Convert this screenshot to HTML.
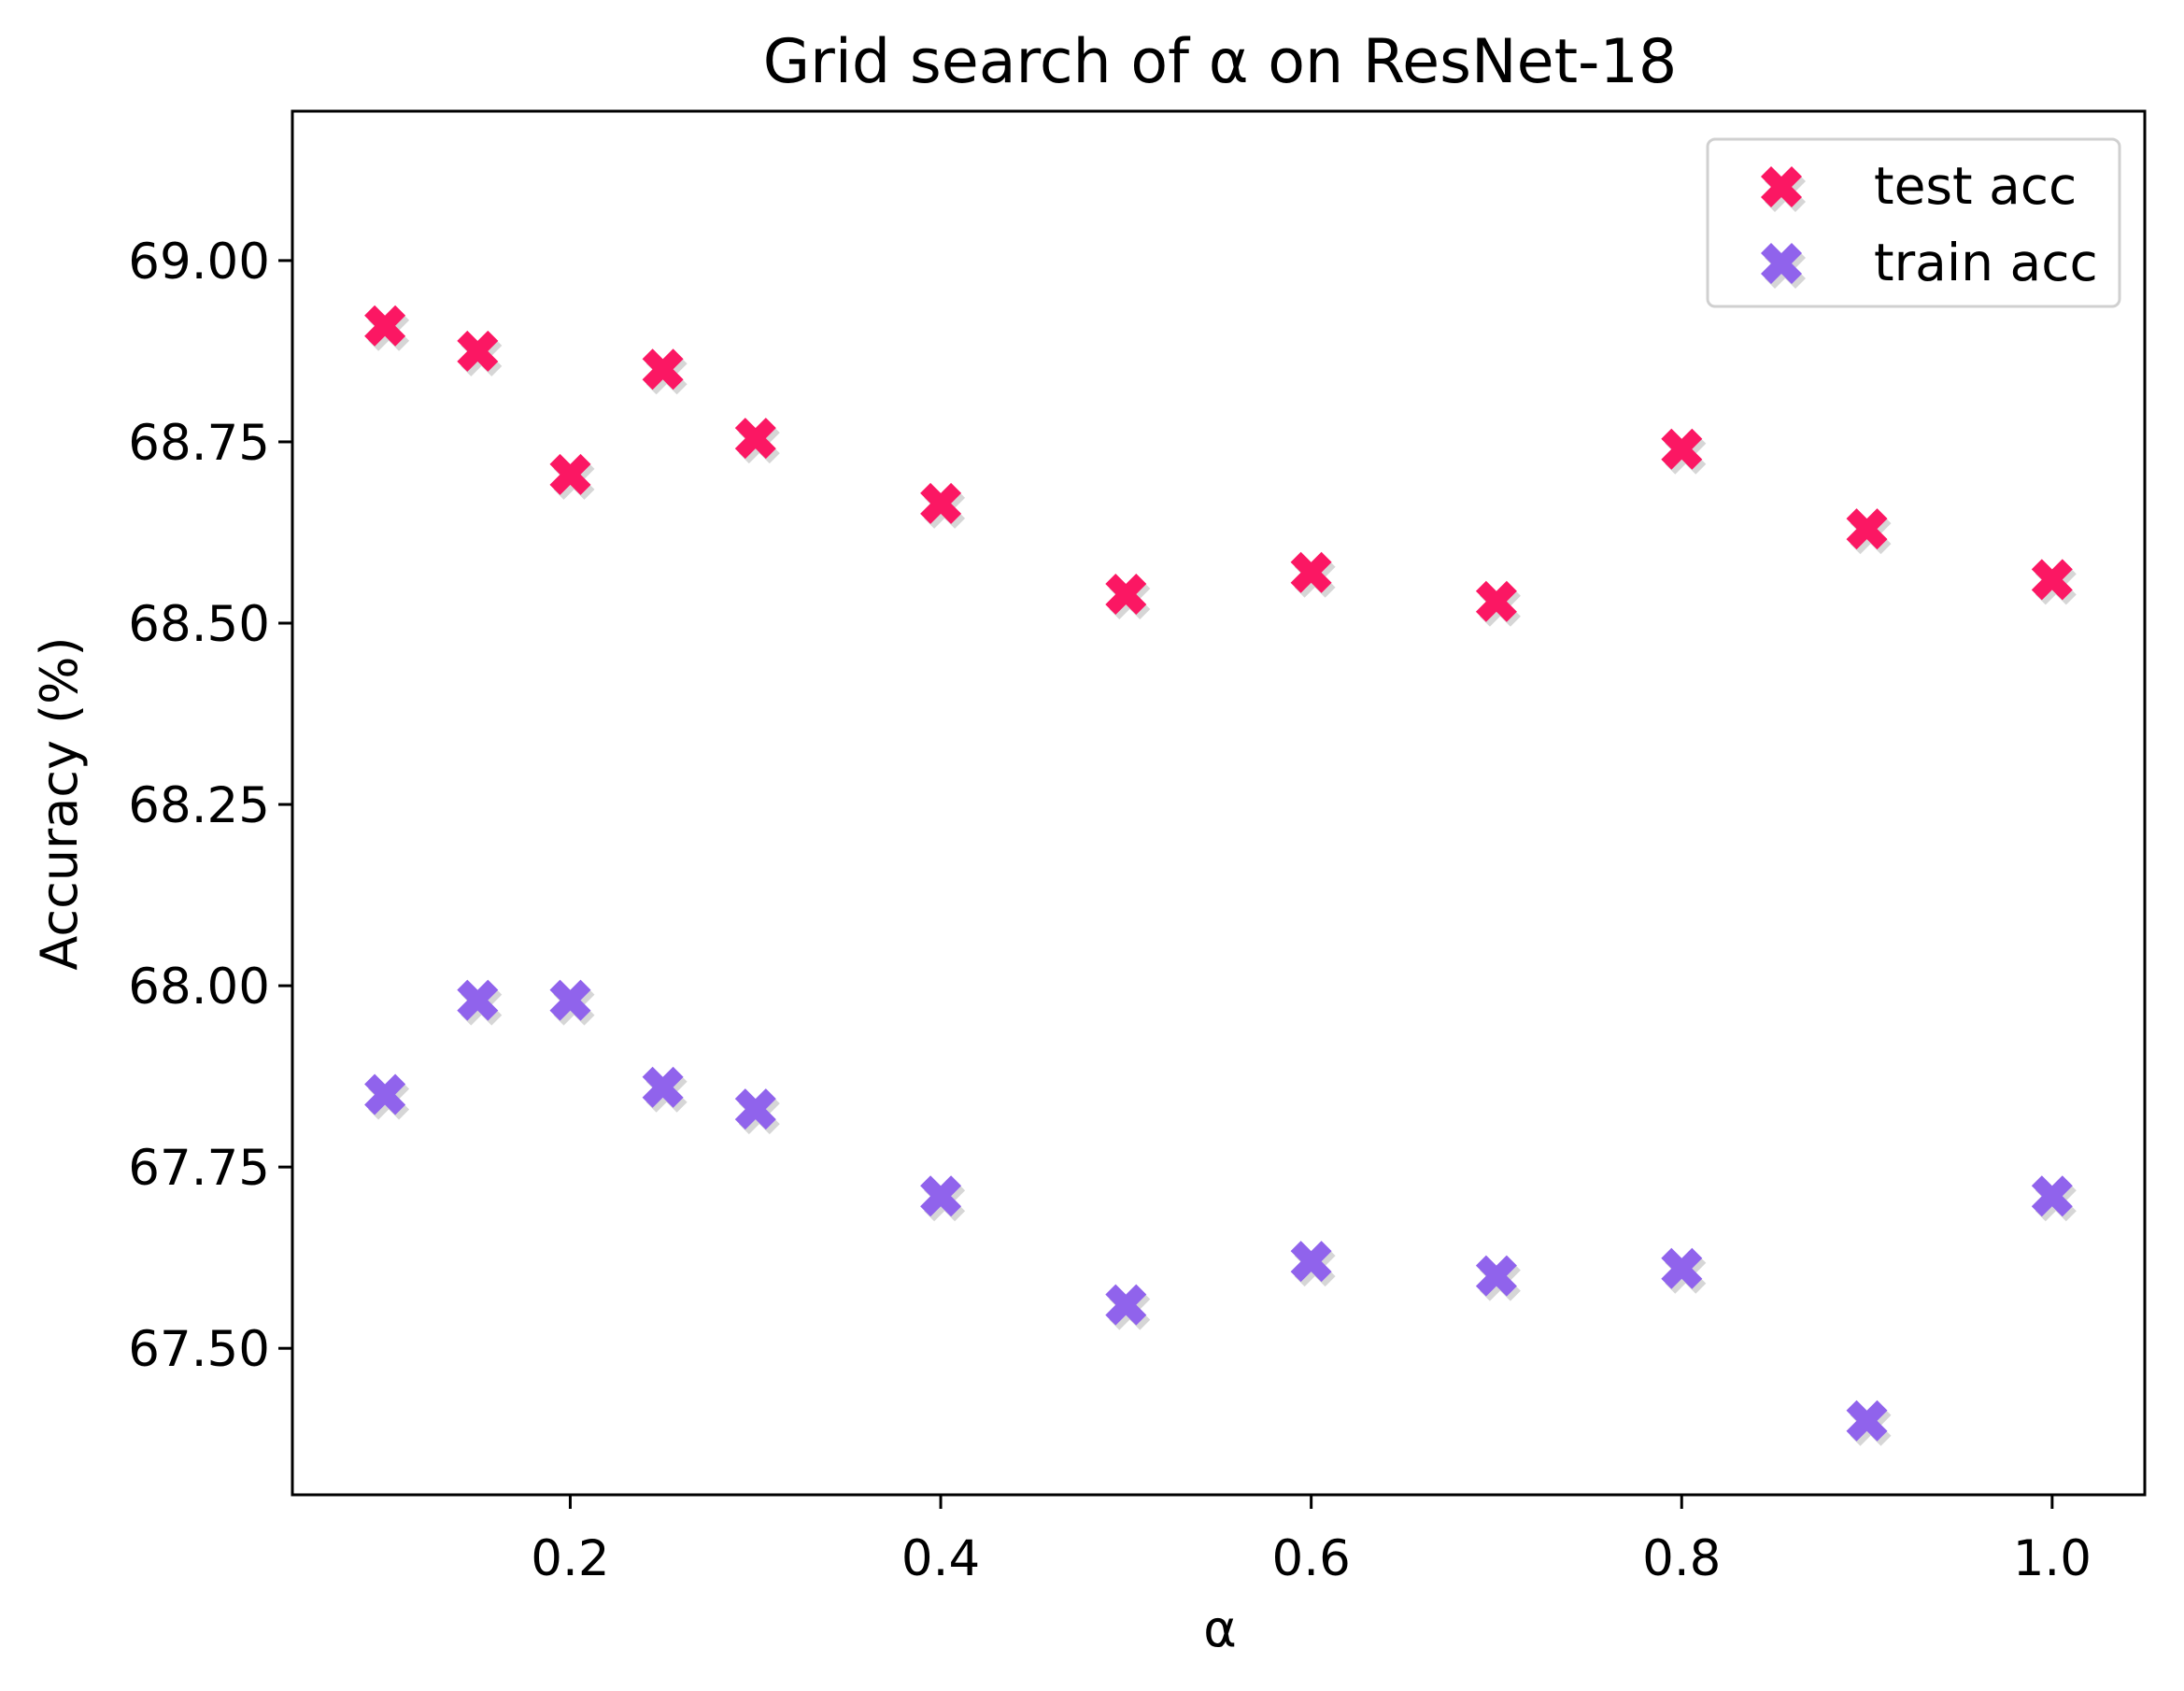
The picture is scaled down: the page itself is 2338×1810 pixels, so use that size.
<!DOCTYPE html>
<html><head><meta charset="utf-8"><style>
html,body{margin:0;padding:0;background:#fff;}
svg{display:block;font-family:"DejaVu Sans","Liberation Sans",sans-serif;}
</style></head><body>
<svg id="chart" width="2338" height="1810" viewBox="0 0 2338 1810" xmlns="http://www.w3.org/2000/svg">
<rect width="2338" height="1810" fill="#fff"/>
<text x="1306" y="88" font-size="65" text-anchor="middle">Grid search of α on ResNet-18</text>
<text x="1306" y="1762" font-size="54" text-anchor="middle">α</text>
<text transform="translate(82,860) rotate(-90)" font-size="54" text-anchor="middle">Accuracy (%)</text>
<g id="ticks"></g>
<g id="marks"></g>
<rect x="313" y="119" width="1983" height="1481" fill="none" stroke="#000" stroke-width="3"/>
<g>
<rect x="1828" y="149" width="441" height="179" rx="8" fill="#fff" fill-opacity="0.8" stroke="#d0d0d0" stroke-width="3"/>
<g id="legend-marks"></g>
<text x="2006" y="218" font-size="55">test acc</text>
<text x="2006" y="300" font-size="55">train acc</text>
</g>
</svg>
<script>
const alphas = [0.1,0.15,0.2,0.25,0.3,0.4,0.5,0.6,0.7,0.8,0.9,1.0];
const testAcc = [68.91,68.875,68.705,68.85,68.755,68.665,68.54,68.57,68.53,68.74,68.63,68.56];
const trainAcc = [67.85,67.98,67.98,67.86,67.83,67.71,67.56,67.62,67.60,67.61,67.40,67.71];
const xTicks = [0.2,0.4,0.6,0.8,1.0];
const xTickLabels = ["0.2","0.4","0.6","0.8","1.0"];
const yTicks = [67.5,67.75,68.0,68.25,68.5,68.75,69.0];
const yTickLabels = ["67.50","67.75","68.00","68.25","68.50","68.75","69.00"];

const L=313,R=2296,T=119,B=1600;
const X0=0.05,X1=1.05,Y0=67.298,Y1=69.206;
const xs=v=>L+(v-X0)/(X1-X0)*(R-L);
const ys=v=>B-(v-Y0)/(Y1-Y0)*(B-T);
const NS="http://www.w3.org/2000/svg";
function mk(tag,attrs){const e=document.createElementNS(NS,tag);for(const k in attrs)e.setAttribute(k,attrs[k]);return e;}
const ticks=document.getElementById('ticks'), marks=document.getElementById('marks');
xTicks.forEach((v,i)=>{
  const l=mk('line',{x1:xs(v),x2:xs(v),y1:B,y2:B+15,stroke:'#000','stroke-width':3});
  
  
  ticks.appendChild(l);
  const t=mk('text',{x:xs(v),y:B+86,'font-size':53,'text-anchor':'middle'});
  t.textContent=xTickLabels[i];
  
  
  ticks.appendChild(t);
});
yTicks.forEach((v,i)=>{
  const l=mk('line',{x1:L-15,x2:L,y1:ys(v),y2:ys(v),stroke:'#000','stroke-width':3});
  
  
  ticks.appendChild(l);
  const t=mk('text',{x:L-24,y:ys(v)+19,'font-size':53,'text-anchor':'end'});
  t.textContent=yTickLabels[i];
  
  
  ticks.appendChild(t);
});
function xpts(cx,cy,s){
  const p=[[-1,-0.5],[-0.5,-1],[0,-0.5],[0.5,-1],[1,-0.5],[0.5,0],[1,0.5],[0.5,1],[0,0.5],[-0.5,1],[-1,0.5],[-0.5,0]];
  return p.map(q=>(cx+q[0]*s).toFixed(1)+','+(cy+q[1]*s).toFixed(1)).join(' ');
}
function marker(parent,cx,cy,color,name){
  const sh=mk('polygon',{points:xpts(cx+4,cy+5,22),fill:'#bbb','fill-opacity':0.6});
  
  
  parent.appendChild(sh);
  const m=mk('polygon',{points:xpts(cx,cy,22),fill:color});
  
  
  parent.appendChild(m);
}
alphas.forEach((a,i)=>{
  marker(marks,xs(a),ys(testAcc[i]),'#fb1763','test-acc-point');
  marker(marks,xs(a),ys(trainAcc[i]),'#9063ec','train-acc-point');
});
const lm=document.getElementById('legend-marks');
marker(lm,1907,200,'#fb1763','legend-marker-test');
marker(lm,1907,282,'#9063ec','legend-marker-train');
</script>
</body></html>
